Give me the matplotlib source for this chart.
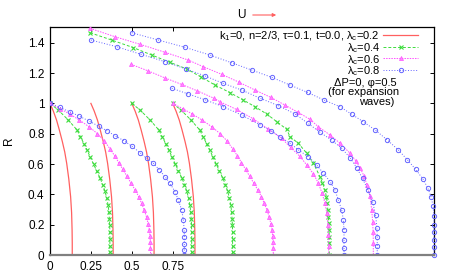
import matplotlib
matplotlib.use("Agg")
import matplotlib.pyplot as plt
from matplotlib.patches import FancyArrowPatch

plt.rcParams['font.family'] = ['Liberation Sans', 'DejaVu Sans']
plt.rcParams['mathtext.fontset'] = 'custom'
plt.rcParams['mathtext.rm'] = 'Liberation Sans'
plt.rcParams['mathtext.it'] = 'Liberation Sans:italic'

# fronts starting at R=1: one shape per lambda_c (offset from start point) + start positions
red_dx = [0, 0.02, 0.04, 0.057, 0.075, 0.09, 0.102, 0.115, 0.126, 0.132, 0.135, 0.136, 0.136]
red_R = [1, 0.95, 0.89, 0.825, 0.75, 0.68, 0.605, 0.5, 0.385, 0.28, 0.165, 0.08, 0]
red_x0 = [0.0, 0.25, 0.5, 0.75]

green_dx = [0, 0.051, 0.112, 0.165, 0.186, 0.207, 0.228, 0.246, 0.266, 0.285, 0.305, 0.322,
            0.336, 0.347, 0.355, 0.360, 0.363, 0.365, 0.366, 0.366, 0.366, 0.366, 0.366]
green_R = [1, 0.956, 0.89, 0.825, 0.78, 0.735, 0.69, 0.645, 0.6, 0.555, 0.51, 0.465,
           0.42, 0.375, 0.33, 0.285, 0.24, 0.195, 0.15, 0.105, 0.06, 0.02, 0]
green_x0 = [0.0, 0.5, 0.75]

mag_dx = [0, 0.06, 0.12, 0.18, 0.24, 0.29, 0.33, 0.367, 0.395, 0.42, 0.445, 0.47, 0.495,
          0.52, 0.542, 0.56, 0.577, 0.59, 0.6, 0.607, 0.611, 0.613, 0.614, 0.615]
mag_R = [1, 0.966, 0.93, 0.89, 0.845, 0.8, 0.755, 0.7, 0.655, 0.61, 0.565, 0.52, 0.475,
         0.43, 0.385, 0.34, 0.295, 0.25, 0.205, 0.165, 0.125, 0.085, 0.045, 0]
mag_x0 = [0.0, 0.75]

blue_dx = [0, 0.06, 0.12, 0.18, 0.24, 0.3, 0.35, 0.4, 0.45, 0.5, 0.55, 0.59, 0.632, 0.668,
           0.703, 0.733, 0.764, 0.784, 0.805, 0.815, 0.82, 0.821, 0.821, 0.821, 0.821]
blue_R = [1, 0.973, 0.945, 0.915, 0.883, 0.848, 0.818, 0.785, 0.755, 0.718, 0.675, 0.638,
          0.605, 0.561, 0.517, 0.473, 0.418, 0.363, 0.297, 0.231, 0.165, 0.12, 0.075, 0.035, 0]
blue_x0 = [0.0]

# expansion-wave fronts starting above R=1
upg_x = [0.245, 0.377, 0.509, 0.622, 0.733, 0.836, 0.92, 1.009, 1.1, 1.182, 1.253, 1.325,
         1.386, 1.447, 1.467, 1.518, 1.569, 1.61, 1.65, 1.665, 1.681, 1.689, 1.695, 1.698,
         1.701, 1.704, 1.706, 1.707, 1.707, 1.707]
upg_R = [1.466, 1.418, 1.368, 1.319, 1.271, 1.227, 1.176, 1.121, 1.071, 1.022, 0.978, 0.93,
         0.879, 0.829, 0.78, 0.737, 0.671, 0.605, 0.517, 0.475, 0.429, 0.385, 0.341, 0.3,
         0.253, 0.21, 0.165, 0.12, 0.077, 0]

upmA_x = [0.245, 0.397, 0.55, 0.703, 0.845, 0.937, 1.049, 1.157, 1.253, 1.349, 1.436, 1.518,
          1.589, 1.64, 1.711, 1.773, 1.834, 1.87, 1.895, 1.92, 1.938, 1.955, 1.966, 1.972,
          1.975, 1.976, 1.976]
upmA_R = [1.495, 1.44, 1.39, 1.337, 1.286, 1.242, 1.192, 1.139, 1.088, 1.04, 0.989, 0.94,
          0.895, 0.846, 0.792, 0.737, 0.671, 0.62, 0.575, 0.52, 0.46, 0.39, 0.3, 0.22,
          0.15, 0.08, 0]

upmB_x = [0.495, 0.601, 0.703, 0.805, 0.9, 1.0, 1.039, 1.14, 1.24, 1.335, 1.416, 1.47, 1.528,
          1.569, 1.61, 1.64, 1.662, 1.68, 1.692, 1.699, 1.702, 1.703, 1.703]
upmB_R = [1.258, 1.214, 1.168, 1.125, 1.083, 1.035, 1.011, 0.96, 0.9, 0.83, 0.77, 0.71, 0.65,
          0.594, 0.535, 0.475, 0.41, 0.345, 0.275, 0.2, 0.13, 0.06, 0]

upb1_x = [0.5, 0.662, 0.825, 0.975, 1.11, 1.233, 1.355, 1.467, 1.575, 1.675, 1.773, 1.844,
          1.915, 1.987, 2.062, 2.129, 2.185, 2.235, 2.28, 2.31, 2.33, 2.342, 2.346, 2.347,
          2.347, 2.347, 2.347, 2.347]
upb1_R = [1.466, 1.418, 1.37, 1.32, 1.268, 1.22, 1.172, 1.121, 1.072, 1.022, 0.978, 0.928,
          0.879, 0.825, 0.758, 0.693, 0.627, 0.565, 0.5, 0.44, 0.38, 0.32, 0.26, 0.2,
          0.15, 0.1, 0.05, 0]

upb2_x = [0.25, 0.407, 0.556, 0.703, 0.831, 0.95, 1.059, 1.172, 1.284, 1.396, 1.498, 1.575,
          1.65, 1.722, 1.783, 1.835, 1.875, 1.91, 1.943, 1.972, 1.99, 1.998, 2.0, 2.0, 2.0]
upb2_R = [1.418, 1.374, 1.324, 1.275, 1.227, 1.18, 1.132, 1.088, 1.034, 0.985, 0.93, 0.87,
          0.81, 0.757, 0.704, 0.64, 0.575, 0.505, 0.43, 0.35, 0.265, 0.18, 0.12, 0.06, 0]

upb3_x = [0.744, 0.845, 0.945, 1.059, 1.172, 1.284, 1.35, 1.406, 1.467, 1.518, 1.579, 1.63,
          1.671, 1.712, 1.742, 1.762, 1.783, 1.793, 1.797, 1.797, 1.797, 1.797]
upb3_R = [1.1, 1.062, 1.025, 0.978, 0.923, 0.858, 0.82, 0.78, 0.737, 0.693, 0.648, 0.594,
          0.539, 0.484, 0.429, 0.363, 0.297, 0.231, 0.165, 0.1, 0.045, 0]

xticks = [0, 0.25, 0.5, 0.75]
xtick_labels = ['0', '0.25', '0.5', '0.75']
yticks = [0, 0.2, 0.4, 0.6, 0.8, 1.0, 1.2, 1.4]
ytick_labels = ['0', '0.2', '0.4', '0.6', '0.8', '1', '1.2', '1.4']

labels = ['k$_1$=0, n=2/3, τ=0.1, t=0.0, λ$_\\mathrm{c}$=0.2',
          'λ$_\\mathrm{c}$=0.4', 'λ$_\\mathrm{c}$=0.6', 'λ$_\\mathrm{c}$=0.8']
note_lines = ['ΔP=0, φ=0.5', '(for expansion', 'waves)']

C_RED = '#ff6060'
C_GREEN = '#3cdc3c'
C_MAG = '#ff50ff'
C_BLUE = '#6464ff'

red_style = dict(color=C_RED, lw=0.9, zorder=2)
green_style = dict(color=C_GREEN, lw=0.7, dashes=(3, 2), marker='x', ms=2.8, mew=0.8, zorder=3)
mag_style = dict(color=C_MAG, lw=0.7, dashes=(1.5, 1.2), marker='^', ms=2.9, mew=0.5,
                 mfc='#ff88ff', mec=C_MAG, zorder=4)
blue_style = dict(color=C_BLUE, lw=0.7, dashes=(1, 1.8), marker='o', ms=3.1, mew=0.7,
                  mfc='none', mec=C_BLUE, zorder=5)
styles = [red_style, green_style, mag_style, blue_style]

fig = plt.figure(figsize=(4.57, 2.77), dpi=100)
ax = fig.add_axes([50 / 457, 1 - 255 / 277, 384 / 457, 227.7 / 277])

for x0 in red_x0:
    ax.plot([x0 + d for d in red_dx], red_R, **red_style)
for x0 in green_x0:
    ax.plot([x0 + d for d in green_dx], green_R, **green_style)
ax.plot(upg_x, upg_R, **green_style)
for x0 in mag_x0:
    ax.plot([x0 + d for d in mag_dx], mag_R, **mag_style)
ax.plot(upmA_x, upmA_R, **mag_style)
ax.plot(upmB_x, upmB_R, **mag_style)
for x0 in blue_x0:
    ax.plot([x0 + d for d in blue_dx], blue_R, **blue_style)
ax.plot(upb1_x, upb1_R, clip_on=False, **blue_style)
ax.plot(upb2_x, upb2_R, **blue_style)
ax.plot(upb3_x, upb3_R, **blue_style)

ax.set_xlim(0, 2.347)
ax.set_ylim(0, 1.502)
ax.set_xticks(xticks)
ax.set_xticklabels(xtick_labels)
ax.set_yticks(yticks)
ax.set_yticklabels(ytick_labels)
ax.tick_params(direction='in', length=3, width=0.7, labelsize=8.5, top=True, right=True,
               pad=4, colors='black')
for s in ['left', 'right', 'top']:
    ax.spines[s].set_linewidth(0.9)
ax.spines['bottom'].set_color('#808080')
ax.spines['bottom'].set_linewidth(1.6)
ax.spines['bottom'].set_zorder(6)

ax.set_ylabel('R', fontsize=8.5, labelpad=9)

# key, gnuplot style: right-aligned titles (one block of text), sample to the right
ax.text((380 - 50) / 384, (255 - 29.5) / 227.7, '\n'.join(labels), transform=ax.transAxes,
        ha='right', va='top', multialignment='right', linespacing=0.8, fontsize=8)
row_px = [35, 46.7, 58.3, 70]
for st, py in zip(styles, row_px):
    yc = (255 - py) / 227.7
    line_st = {k: v for k, v in st.items() if k not in ('marker', 'ms', 'mew', 'mfc', 'mec')}
    ax.plot([(383.3 - 50) / 384, (418.3 - 50) / 384], [yc, yc], transform=ax.transAxes,
            clip_on=False, **line_st)
    if 'marker' in st:
        mk = {k: v for k, v in st.items() if k != 'dashes'}
        ax.plot([(400.8 - 50) / 384], [yc], transform=ax.transAxes, clip_on=False,
                linestyle='none', **mk)

ax.text((397 - 50) / 384, (255 - 82.5) / 227.7, note_lines[0], transform=ax.transAxes,
        ha='right', va='center', fontsize=8)
ax.text((364 - 50) / 384, (255 - 92.2) / 227.7, note_lines[1], transform=ax.transAxes,
        ha='center', va='center', fontsize=8)
ax.text((377 - 50) / 384, (255 - 102) / 227.7, note_lines[2], transform=ax.transAxes,
        ha='center', va='center', fontsize=8)

# "U ->" marker above the plot
fig.text(241.7 / 457, 1 - 15 / 277, 'U', ha='center', va='center', fontsize=8.5)
fig.patches.append(FancyArrowPatch(
    (250 / 457, 1 - 15 / 277), (279 / 457, 1 - 15 / 277), transform=fig.transFigure,
    arrowstyle='-|>', mutation_scale=5, color=C_RED, lw=0.8))

fig.savefig('out.png', dpi=100)
